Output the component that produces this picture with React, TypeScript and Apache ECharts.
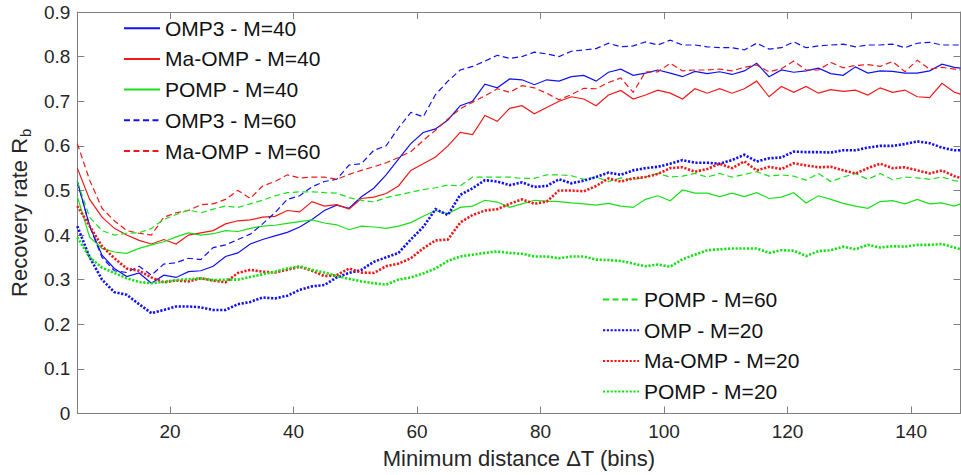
import React, { useEffect, useRef } from "react";
import * as echarts from "echarts";

const X = [5, 7, 9, 11, 13, 15, 17, 19, 21, 23, 25, 27, 29, 31, 33, 35, 37, 39, 41, 43, 45, 47, 49, 51, 53, 55, 57, 59, 61, 63, 65, 67, 69, 71, 73, 75, 77, 79, 81, 83, 85, 87, 89, 91, 93, 95, 97, 99, 101, 103, 105, 107, 109, 111, 113, 115, 117, 119, 121, 123, 125, 127, 129, 131, 133, 135, 137, 139, 141, 143, 145, 147, 148];

const OMP3_M40 = [0.52, 0.42, 0.355, 0.325, 0.307, 0.315, 0.292, 0.31, 0.305, 0.318,
  0.32, 0.33, 0.352, 0.36, 0.38, 0.39, 0.398, 0.406, 0.418, 0.435,
  0.455, 0.467, 0.46, 0.486, 0.505, 0.535, 0.57, 0.605, 0.63, 0.638,
  0.658, 0.69, 0.7, 0.738, 0.73, 0.75, 0.748, 0.737, 0.748, 0.745,
  0.755, 0.758, 0.745, 0.765, 0.772, 0.758, 0.763, 0.77, 0.763, 0.755,
  0.767, 0.762, 0.766, 0.76, 0.768, 0.785, 0.755, 0.77, 0.765, 0.768,
  0.774, 0.762, 0.758, 0.777, 0.763, 0.768, 0.767, 0.763, 0.763, 0.768,
  0.783, 0.776, 0.774];

const MAOMP_M40 = [0.55, 0.48, 0.44, 0.415, 0.4, 0.388, 0.38, 0.39, 0.38, 0.4,
  0.405, 0.41, 0.425, 0.432, 0.434, 0.44, 0.442, 0.455, 0.452, 0.475,
  0.465, 0.468, 0.458, 0.482, 0.485, 0.493, 0.51, 0.545, 0.56, 0.575,
  0.6, 0.63, 0.625, 0.668, 0.655, 0.684, 0.69, 0.672, 0.686, 0.7,
  0.71, 0.705, 0.69, 0.714, 0.724, 0.705, 0.714, 0.725, 0.718, 0.705,
  0.728, 0.718, 0.728, 0.718, 0.728, 0.745, 0.71, 0.733, 0.72, 0.733,
  0.718, 0.726, 0.722, 0.725, 0.714, 0.73, 0.72, 0.725, 0.71, 0.708,
  0.74, 0.72, 0.716];

const POMP_M40 = [0.486, 0.395, 0.37, 0.362, 0.359, 0.37, 0.378, 0.385, 0.396, 0.405,
  0.4, 0.403, 0.41, 0.408, 0.415, 0.42, 0.422, 0.426, 0.43, 0.434,
  0.427, 0.423, 0.412, 0.42, 0.418, 0.415, 0.42, 0.428, 0.442, 0.455,
  0.448, 0.462, 0.465, 0.478, 0.474, 0.462, 0.47, 0.478, 0.476, 0.475,
  0.472, 0.47, 0.467, 0.471, 0.465, 0.462, 0.48, 0.488, 0.477, 0.501,
  0.494, 0.494, 0.486, 0.494, 0.486, 0.495, 0.482, 0.485, 0.495, 0.472,
  0.488, 0.48, 0.471, 0.465, 0.46, 0.475, 0.477, 0.47, 0.48, 0.47,
  0.472, 0.465, 0.47];

const OMP3_M60 = [0.52, 0.42, 0.35, 0.32, 0.316, 0.33, 0.31, 0.335, 0.338, 0.348,
  0.345, 0.372, 0.378, 0.39, 0.402, 0.425, 0.45, 0.48, 0.488, 0.508,
  0.52, 0.525, 0.557, 0.56, 0.59, 0.6, 0.64, 0.675, 0.665, 0.715,
  0.745, 0.77, 0.778, 0.79, 0.803, 0.796, 0.8, 0.81, 0.806, 0.8,
  0.812, 0.815, 0.818, 0.83, 0.822, 0.824, 0.833, 0.826, 0.837, 0.826,
  0.826, 0.822, 0.82, 0.82, 0.815, 0.83, 0.817, 0.82, 0.833, 0.82,
  0.824, 0.826, 0.828, 0.822, 0.826, 0.826, 0.828, 0.82, 0.83, 0.832,
  0.826, 0.826, 0.826];

const MAOMP_M60 = [0.605, 0.523, 0.46, 0.432, 0.41, 0.404, 0.4, 0.44, 0.45, 0.455,
  0.468, 0.47, 0.48, 0.5, 0.482, 0.51, 0.52, 0.535, 0.528, 0.53,
  0.53, 0.525, 0.536, 0.545, 0.553, 0.562, 0.574, 0.587, 0.612, 0.635,
  0.66, 0.683, 0.698, 0.712, 0.728, 0.72, 0.735, 0.73, 0.718, 0.703,
  0.715, 0.729, 0.728, 0.742, 0.752, 0.72, 0.766, 0.766, 0.785, 0.768,
  0.77, 0.77, 0.772, 0.768, 0.776, 0.781, 0.766, 0.773, 0.79, 0.77,
  0.77, 0.787, 0.775, 0.78, 0.782, 0.778, 0.789, 0.766, 0.792, 0.772,
  0.776, 0.772, 0.77];

const POMP_M60 = [0.52, 0.44, 0.41, 0.4, 0.404, 0.405, 0.415, 0.435, 0.446, 0.456,
  0.45, 0.458, 0.465, 0.462, 0.47, 0.478, 0.488, 0.495, 0.497, 0.497,
  0.495, 0.494, 0.484, 0.478, 0.474, 0.484, 0.49, 0.496, 0.502, 0.506,
  0.512, 0.51, 0.53, 0.53, 0.53, 0.53, 0.527, 0.527, 0.535, 0.535,
  0.533, 0.525, 0.53, 0.52, 0.528, 0.524, 0.53, 0.538, 0.53, 0.532,
  0.538, 0.53, 0.538, 0.53, 0.536, 0.542, 0.532, 0.535, 0.532, 0.523,
  0.538, 0.52, 0.53, 0.538, 0.525, 0.538, 0.524, 0.53, 0.528, 0.525,
  0.53, 0.522, 0.52];

const OMP_M20 = [0.42, 0.35, 0.3, 0.272, 0.266, 0.245, 0.225, 0.232, 0.24, 0.24,
  0.238, 0.232, 0.232, 0.245, 0.25, 0.26, 0.258, 0.264, 0.277, 0.285,
  0.288, 0.305, 0.315, 0.322, 0.34, 0.35, 0.36, 0.39, 0.418, 0.458,
  0.445, 0.49, 0.505, 0.523, 0.52, 0.512, 0.518, 0.508, 0.51, 0.525,
  0.516, 0.522, 0.53, 0.54, 0.535, 0.545, 0.55, 0.553, 0.56, 0.568,
  0.562, 0.562, 0.56, 0.568, 0.58, 0.565, 0.572, 0.574, 0.587, 0.586,
  0.586, 0.585, 0.59, 0.59, 0.596, 0.6, 0.6, 0.604, 0.61, 0.606,
  0.596, 0.59, 0.59];

const MAOMP_M20 = [0.465, 0.42, 0.375, 0.348, 0.325, 0.32, 0.305, 0.294, 0.298, 0.296,
  0.303, 0.298, 0.294, 0.315, 0.322, 0.318, 0.316, 0.322, 0.329, 0.32,
  0.308, 0.31, 0.325, 0.316, 0.315, 0.33, 0.336, 0.348, 0.37, 0.388,
  0.39, 0.428, 0.445, 0.455, 0.458, 0.47, 0.48, 0.47, 0.475, 0.5,
  0.5, 0.498, 0.51, 0.527, 0.52, 0.527, 0.53, 0.537, 0.55, 0.552,
  0.542, 0.548, 0.56, 0.55, 0.565, 0.545, 0.553, 0.548, 0.561, 0.556,
  0.552, 0.553, 0.545, 0.538, 0.55, 0.56, 0.55, 0.552, 0.545, 0.538,
  0.545, 0.532, 0.528];

const POMP_M20 = [0.395, 0.35, 0.327, 0.315, 0.303, 0.295, 0.292, 0.295, 0.299, 0.301,
  0.303, 0.299, 0.3, 0.3, 0.306, 0.312, 0.318, 0.325, 0.33, 0.322,
  0.316, 0.308, 0.302, 0.296, 0.292, 0.289, 0.3, 0.305, 0.314, 0.325,
  0.342, 0.352, 0.356, 0.36, 0.363, 0.36, 0.358, 0.352, 0.352, 0.348,
  0.352, 0.352, 0.345, 0.344, 0.342, 0.336, 0.33, 0.334, 0.329, 0.346,
  0.356, 0.366, 0.368, 0.37, 0.37, 0.37, 0.36, 0.366, 0.365, 0.353,
  0.364, 0.366, 0.374, 0.368, 0.378, 0.372, 0.375, 0.374, 0.378, 0.378,
  0.38, 0.372, 0.368];

const NAMES = [
  "OMP3 - M=40", "Ma-OMP - M=40", "POMP - M=40", "OMP3 - M=60", "Ma-OMP - M=60",
  "POMP - M=60", "OMP - M=20", "Ma-OMP - M=20", "POMP - M=20",
];
const X_TITLE = "Minimum distance \u0394T (bins)";
const Y_TITLE = "{a|Recovery rate R}{b|b}";

const FONT = "'Liberation Sans', Arial, Helvetica, sans-serif";
const BLUE = "#1010f0";
const RED = "#f01818";
const GREEN = "#18e018";
const AXIS = "#808080";
const TXT = "#262626";

export default function App() {
  const ref = useRef<HTMLDivElement>(null);
  useEffect(() => {
    const chart = echarts.init(ref.current!, null, { renderer: "svg" });
    const solid = "solid";
    const dashed = [6, 3.5];
    const dotted = [2.2, 1.6];
    const specs: [string, number[], string, any, number][] = [
      [NAMES[0], OMP3_M40, BLUE, solid, 1.2],
      [NAMES[1], MAOMP_M40, RED, solid, 1.2],
      [NAMES[2], POMP_M40, GREEN, solid, 1.2],
      [NAMES[3], OMP3_M60, BLUE, dashed, 1.2],
      [NAMES[4], MAOMP_M60, RED, dashed, 1.2],
      [NAMES[5], POMP_M60, GREEN, dashed, 1.2],
      [NAMES[6], OMP_M20, BLUE, dotted, 2.6],
      [NAMES[7], MAOMP_M20, RED, dotted, 2.6],
      [NAMES[8], POMP_M20, GREEN, dotted, 2.6],
    ];
    const series = specs.map(([name, vals, color, type, width]) => ({
      name,
      type: "line",
      data: X.map((x, i) => [x, vals[i]]),
      symbol: "none",
      showSymbol: false,
      silent: true,
      emphasis: { disabled: true },
      itemStyle: { color },
      lineStyle: { color, type, width, cap: "butt", join: "miter" },
      xAxisIndex: 0,
      yAxisIndex: 0,
    }));
    const legendBase = {
      orient: "vertical",
      itemWidth: 36,
      itemHeight: 20,
      itemGap: 9.7,
      padding: 0,
      selectedMode: false,
      itemStyle: { opacity: 0 },
      textStyle: { fontSize: 21, color: "#111", fontFamily: FONT, lineHeight: 20 },
    };
    const xBase = {
      type: "value",
      min: 5,
      max: 148,
      splitNumber: 7,
      minInterval: 20,
      maxInterval: 20,
      splitLine: { show: false },
      axisLine: { show: true, onZero: false, lineStyle: { color: AXIS, width: 1 } },
      axisTick: { show: true, inside: true, length: 7, lineStyle: { color: AXIS } },
    };
    const yBase = {
      type: "value",
      min: 0,
      max: 0.9,
      interval: 0.1,
      splitLine: { show: false },
      axisLine: { show: true, onZero: false, lineStyle: { color: AXIS, width: 1 } },
      axisTick: { show: true, inside: true, length: 7, lineStyle: { color: AXIS } },
    };
    chart.setOption({
      animation: false,
      backgroundColor: "#ffffff",
      textStyle: { fontFamily: FONT },
      grid: { left: 76.7, right: 0.5, top: 12, bottom: 61.5, containLabel: false },
      legend: [
        { ...legendBase, data: NAMES.slice(0, 5), left: 123, top: 17.7 },
        { ...legendBase, data: NAMES.slice(5), left: 602, top: 289 },
      ],
      xAxis: [
        {
          ...xBase,
          position: "bottom",
          axisLabel: { color: TXT, fontSize: 19, margin: 8, fontFamily: FONT, showMinLabel: false, showMaxLabel: false },
          name: X_TITLE,
          nameLocation: "middle",
          nameGap: 34,
          nameTextStyle: { fontSize: 22, color: TXT, fontFamily: FONT },
        },
        { ...xBase, position: "top", axisLabel: { show: false } },
      ],
      yAxis: [
        {
          ...yBase,
          position: "left",
          axisLabel: { color: TXT, fontSize: 19, margin: 7, fontFamily: FONT },
          name: Y_TITLE,
          nameLocation: "middle",
          nameGap: 44,
          nameTextStyle: {
            color: TXT,
            fontFamily: FONT,
            rich: {
              a: { fontSize: 22, color: TXT, fontFamily: FONT, lineHeight: 28, verticalAlign: "middle" },
              b: { fontSize: 15, color: TXT, fontFamily: FONT, lineHeight: 28, verticalAlign: "bottom", padding: [0, 0, 0, 1] },
            },
          },
        },
        { ...yBase, position: "right", axisLabel: { show: false } },
      ],
      series,
    });
    return () => chart.dispose();
  }, []);
  return <div ref={ref} style={{ position: "fixed", left: 0, top: 0, width: 961, height: 475 }} />;
}
